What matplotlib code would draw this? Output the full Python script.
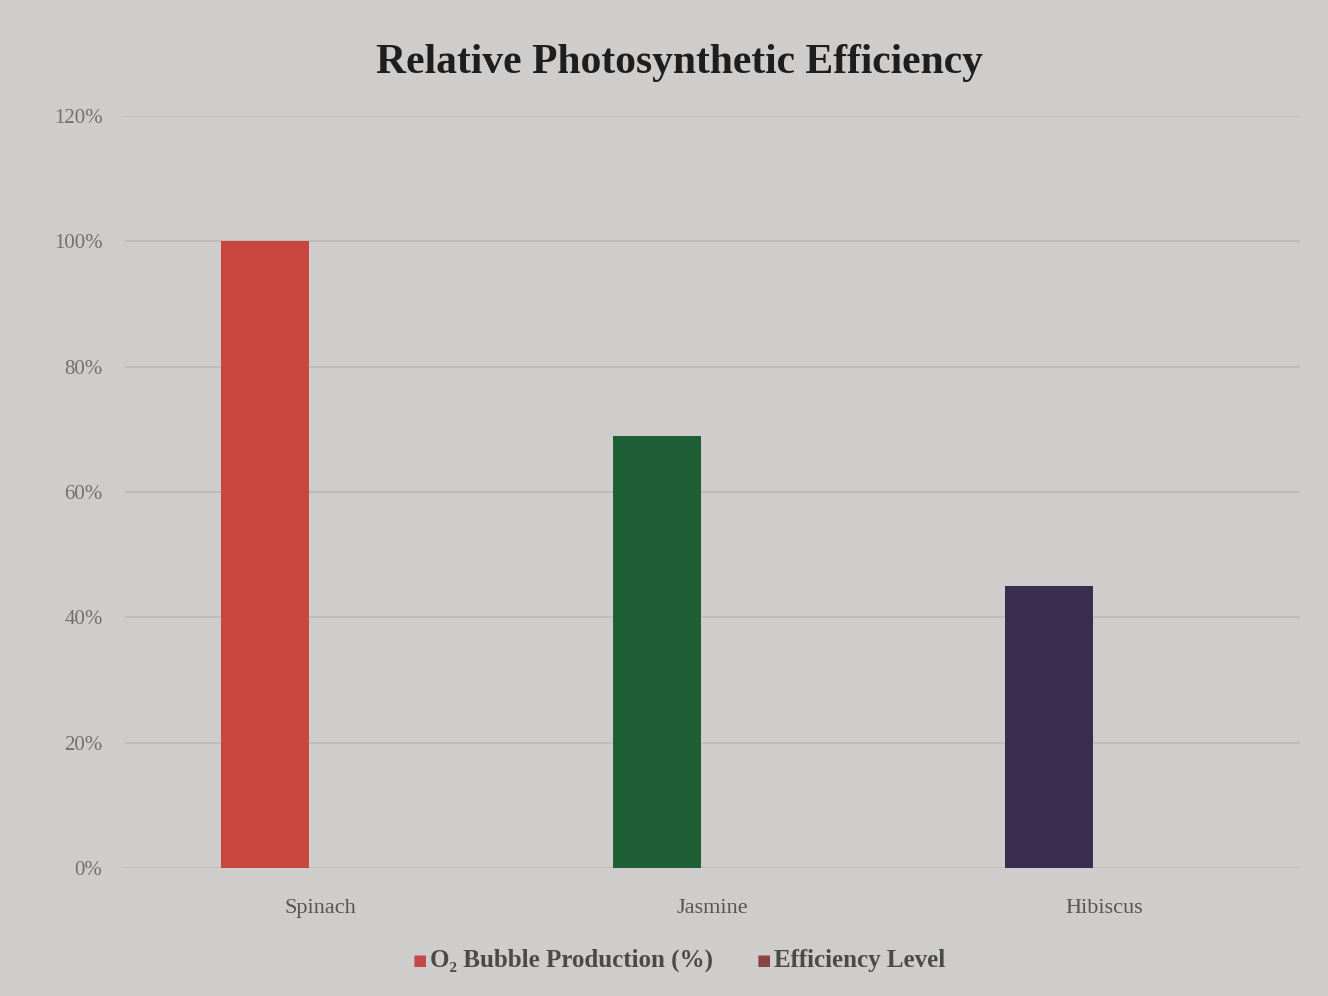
import matplotlib.pyplot as plt
import numpy as np

plants = ['Spinach', 'Jasmine', 'Hibiscus']
o2_production = [100, 69, 45]
efficiency_level = [0, 0, 0]
bar_colors = ['#c9463f', '#1f5f35', '#382c4f']
y_ticks = [0, 20, 40, 60, 80, 100, 120]

bg = '#cfcdcb'
serif = ['Liberation Serif', 'DejaVu Serif']

fig = plt.figure(figsize=(13.28, 9.96), dpi=100)
fig.patch.set_facecolor(bg)
ax = fig.add_axes([0.094, 0.1285, 0.885, 0.755])
ax.set_facecolor(bg)

x = np.arange(len(plants))
w = 0.225
ax.bar(x - 0.142, o2_production, w, color=bar_colors, zorder=3)
ax.bar(x + 0.142, efficiency_level, w, color='#8a4444', zorder=3)

ax.set_xlim(-0.5, 2.5)
ax.set_ylim(0, 120)
ax.set_yticks(y_ticks)
ax.set_yticklabels([f'{t}%' for t in y_ticks], family=serif, fontsize=15, color='#707070')
ax.set_xticks(x)
ax.set_xticklabels(plants, family=serif, fontsize=16, color='#555555')
ax.tick_params(axis='x', length=0, pad=22)
ax.tick_params(axis='y', length=0, pad=16)
ax.grid(axis='y', color='#bcbab8', linewidth=1.2, zorder=0)
for s in ax.spines.values():
    s.set_visible(False)

fig.text(0.512, 0.937, 'Relative Photosynthetic Efficiency', ha='center', va='center',
         family=serif, fontsize=30, fontweight='bold', color='#1e1e1e')

# legend
fig.text(0.311, 0.036, '\u25a0', ha='left', va='center', fontsize=11, color='#c44a4a')
fig.text(0.324, 0.036, 'O\u2082 Bubble Production (%)', ha='left', va='center',
         family=serif, fontsize=18, fontweight='bold', color='#4a4a4a')
fig.text(0.570, 0.036, '\u25a0', ha='left', va='center', fontsize=11, color='#8a4444')
fig.text(0.583, 0.036, 'Efficiency Level', ha='left', va='center',
         family=serif, fontsize=18, fontweight='bold', color='#4a4a4a')

plt.savefig('out.png', dpi=100, facecolor=bg)
